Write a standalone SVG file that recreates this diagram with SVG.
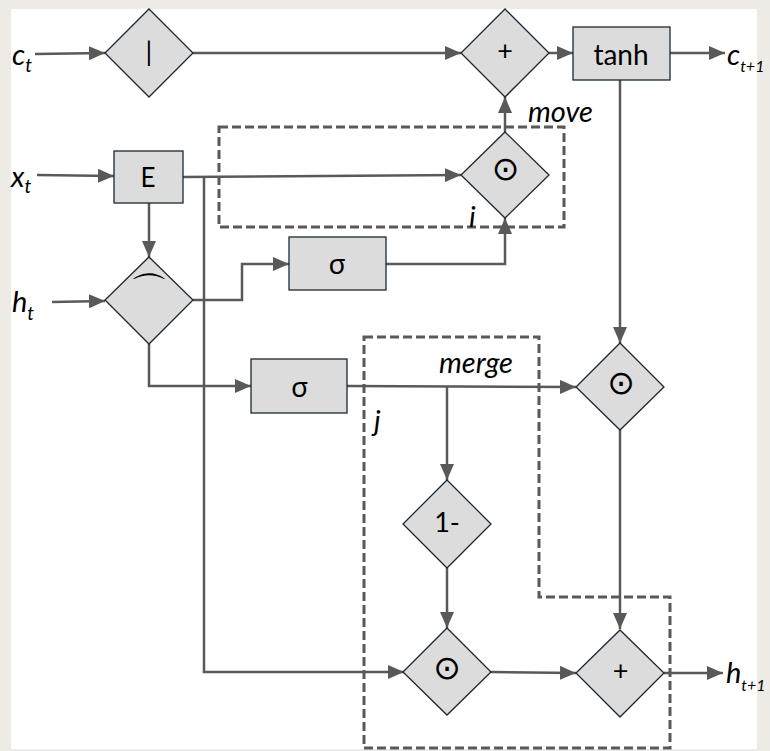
<svg xmlns="http://www.w3.org/2000/svg" width="770" height="751" viewBox="0 0 770 751">
<defs>
<style>
.node{fill:#dcdcdc;stroke:#1c2833;stroke-width:1.3}
.conn{fill:none;stroke:#595959;stroke-width:2.5}
.dash{fill:none;stroke:#595959;stroke-width:3;stroke-dasharray:9 4}
.t{font-family:Lato,"Liberation Sans",sans-serif;fill:#000}
.lab{font-family:Lato,"Liberation Sans",sans-serif;font-style:italic;font-size:29px;fill:#000}
.sub{font-size:19px}
.sub2{font-size:16px}
.sym{font-family:"DejaVu Sans",sans-serif;fill:#000}
.greek{font-family:"Noto Sans","DejaVu Sans",sans-serif;font-size:28px;fill:#000}
</style>
<marker id="arr" markerUnits="userSpaceOnUse" markerWidth="16" markerHeight="14" refX="16" refY="7" orient="auto" viewBox="0 0 16 14">
<path d="M0,0 L16,7 L0,14 z" fill="#595959"/>
</marker>
</defs>
<rect x="0" y="0" width="770" height="751" fill="#eeebe6"/>
<rect x="11" y="9" width="746" height="740" fill="#ffffff"/>

<g id="groups">
<rect class="dash" x="219" y="127" width="345" height="100"/>
<path class="dash" d="M364,337 H539 V597 H670 V748 H364 Z"/>
</g>

<g id="connectors">
<path class="conn" d="M35,54 L105,53" marker-end="url(#arr)"/>
<path class="conn" d="M193,53 L461,53" marker-end="url(#arr)"/>
<path class="conn" d="M549,53 L573,53" marker-end="url(#arr)"/>
<path class="conn" d="M670,53 L725,53" marker-end="url(#arr)"/>
<path class="conn" d="M37,175 L114,176" marker-end="url(#arr)"/>
<path class="conn" d="M183,177 L461,175" marker-end="url(#arr)"/>
<path class="conn" d="M204,177 V672 H404" marker-end="url(#arr)"/>
<path class="conn" d="M149,203 V257" marker-end="url(#arr)"/>
<path class="conn" d="M52,302 L105,301" marker-end="url(#arr)"/>
<path class="conn" d="M193,300 H242 V264 H289" marker-end="url(#arr)"/>
<path class="conn" d="M386,264 H505 V218" marker-end="url(#arr)"/>
<path class="conn" d="M505,132 V97" marker-end="url(#arr)"/>
<path class="conn" d="M149,344 V386 H251" marker-end="url(#arr)"/>
<path class="conn" d="M347,386 L576,387" marker-end="url(#arr)"/>
<path class="conn" d="M447,387 V480" marker-end="url(#arr)"/>
<path class="conn" d="M620,80 V343" marker-end="url(#arr)"/>
<path class="conn" d="M620,430 V629" marker-end="url(#arr)"/>
<path class="conn" d="M447,568 V628" marker-end="url(#arr)"/>
<path class="conn" d="M491,672 L576,673" marker-end="url(#arr)"/>
<path class="conn" d="M664,673 L723,673" marker-end="url(#arr)"/>
</g>

<g id="n-bar">
<path class="node" d="M149,9 L193,53 L149,97 L105,53 Z"/>
<text class="t" x="149" y="61" font-size="27" text-anchor="middle" font-family="Liberation Sans, sans-serif">|</text>
</g>
<g id="n-plus1">
<path class="node" d="M505,9 L549,53 L505,97 L461,53 Z"/>
<text class="t" x="505" y="60" font-size="27" text-anchor="middle">+</text>
</g>
<g id="n-tanh">
<rect class="node" x="573" y="27" width="97" height="53"/>
<text class="t" x="621" y="65" font-size="28" text-anchor="middle">tanh</text>
</g>
<g id="n-E">
<rect class="node" x="114" y="151" width="69" height="52"/>
<text class="t" x="148" y="187" font-size="26" text-anchor="middle">E</text>
</g>
<g id="n-dot1">
<path class="node" d="M505,132 L549,175 L505,218 L461,175 Z"/>
<text class="sym" x="505.5" y="180" font-size="33" text-anchor="middle">⊙</text>
</g>
<g id="n-concat">
<path class="node" d="M149,257 L193,300 L149,344 L105,300 Z"/>
<text class="sym" x="149" y="304" font-size="38" text-anchor="middle">⌒</text>
</g>
<g id="n-sigma1">
<rect class="node" x="289" y="237" width="97" height="53"/>
<text class="greek" x="337" y="274" text-anchor="middle">σ</text>
</g>
<g id="n-sigma2">
<rect class="node" x="251" y="359" width="96" height="54"/>
<text class="greek" x="299.5" y="397" text-anchor="middle">σ</text>
</g>
<g id="n-dot2">
<path class="node" d="M620,343 L664,387 L620,430 L576,387 Z"/>
<text class="sym" x="621" y="394" font-size="33" text-anchor="middle">⊙</text>
</g>
<g id="n-oneminus">
<path class="node" d="M447,480 L491,524 L447,568 L403,524 Z"/>
<text class="t" x="447" y="532" font-size="27" text-anchor="middle">1-</text>
</g>
<g id="n-dot3">
<path class="node" d="M447,628 L491,672 L447,715 L403,672 Z"/>
<text class="sym" x="447" y="679" font-size="33" text-anchor="middle">⊙</text>
</g>
<g id="n-plus2">
<path class="node" d="M620,630 L664,673 L620,717 L576,673 Z"/>
<text class="t" x="620.5" y="680" font-size="27" text-anchor="middle">+</text>
</g>

<g id="labels">
<text class="lab" x="12" y="65">c<tspan class="sub" dy="7">t</tspan></text>
<text class="lab" x="11" y="187">x<tspan class="sub" dy="6">t</tspan></text>
<text class="lab" x="12" y="312">h<tspan class="sub" dy="8">t</tspan></text>
<text class="lab" x="727" y="65">c<tspan class="sub2" dy="7">t+1</tspan></text>
<text class="lab" x="726" y="683">h<tspan class="sub2" dy="8">t+1</tspan></text>
<text class="lab" x="528" y="122">move</text>
<text class="lab" x="469" y="227">i</text>
<text class="lab" x="439" y="373">merge</text>
<text class="lab" x="374" y="431">j</text>
</g>
</svg>
